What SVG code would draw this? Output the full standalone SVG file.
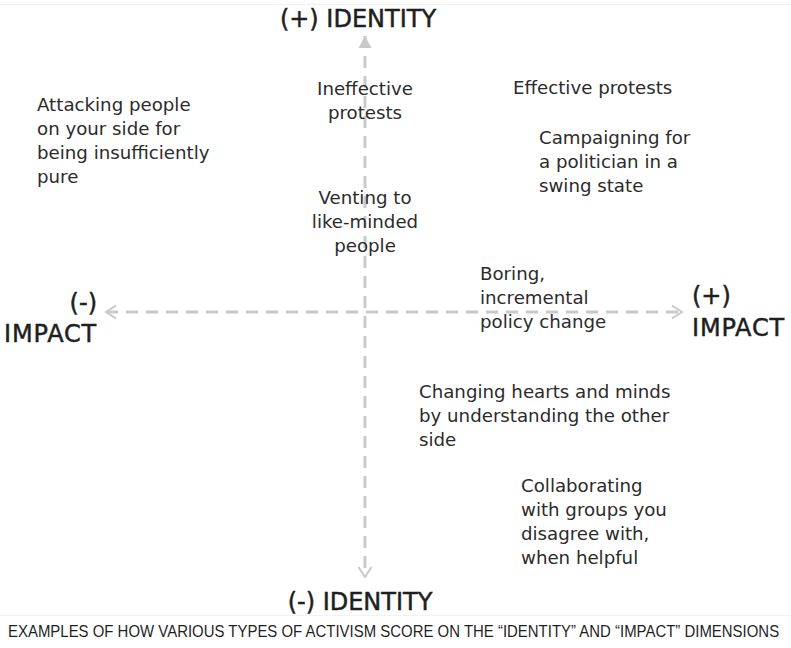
<svg xmlns="http://www.w3.org/2000/svg" width="791" height="648" viewBox="0 0 791 648">
<style>
.body{font-family:"DejaVu Sans",sans-serif;font-size:18.2px;fill:#2b2b2b}
.mid{text-anchor:middle}
.title{font-family:"DejaVu Sans",sans-serif;font-size:24px;fill:#1f1f1f;stroke:#1f1f1f;stroke-width:0.5}
.axis{stroke:#c9c9c9;stroke-width:3;fill:none;stroke-dasharray:12 8}
.cap{font-family:"Liberation Sans",sans-serif;font-size:16px;fill:#1f1f1f}
.rule{stroke:#f2f2f2;stroke-width:1}
</style>
<defs>
<marker id="chev" markerUnits="userSpaceOnUse" markerWidth="16" markerHeight="16" viewBox="-13 -8 16 16" refX="0" refY="0" orient="auto-start-reverse">
<path d="M-10,-6.5 L0,0 L-10,6.5" fill="none" stroke="#c9c9c9" stroke-width="2"/>
</marker>
<marker id="tri" markerUnits="userSpaceOnUse" markerWidth="16" markerHeight="16" viewBox="-13 -8 16 16" refX="0" refY="0" orient="auto-start-reverse">
<path d="M-12,-6.5 L0,0 L-12,6.5 Z" fill="#c9c9c9"/>
</marker>
</defs>
<rect width="791" height="648" fill="#ffffff"/>
<line class="rule" x1="0" y1="4.5" x2="791" y2="4.5"/>
<line class="rule" x1="0" y1="615.5" x2="791" y2="615.5"/>
<g id="connectors">
<line class="axis" x1="365" y1="36" x2="365" y2="577" marker-start="url(#tri)" marker-end="url(#chev)"/>
<line class="axis" x1="106" y1="312" x2="682" y2="312" marker-start="url(#chev)" marker-end="url(#chev)"/>
</g>
<g id="identity-plus"><text class="title mid" x="358" y="27">(+) IDENTITY</text></g>
<g id="identity-minus"><text class="title mid" x="360" y="610">(-) IDENTITY</text></g>
<g id="impact-minus"><text class="title" x="97" y="311" text-anchor="end">(-)</text><text class="title" x="97" y="342" text-anchor="end" letter-spacing="0.8">IMPACT</text></g>
<g id="impact-plus"><text class="title" x="692" y="304">(+)</text><text class="title" x="692" y="336" letter-spacing="0.8">IMPACT</text></g>
<g id="attacking"><text class="body" x="37"><tspan x="37" y="111">Attacking people</tspan><tspan x="37" y="135">on your side for</tspan><tspan x="37" y="159">being insufficiently</tspan><tspan x="37" y="183">pure</tspan></text></g>
<g id="ineffective"><text class="body mid"><tspan x="365" y="95">Ineffective</tspan><tspan x="365" y="119">protests</tspan></text></g>
<g id="effective"><text class="body" x="513" y="94">Effective protests</text></g>
<g id="campaigning"><text class="body"><tspan x="539" y="144">Campaigning for</tspan><tspan x="539" y="168">a politician in a</tspan><tspan x="539" y="192">swing state</tspan></text></g>
<g id="venting"><text class="body mid"><tspan x="365" y="204">Venting to</tspan><tspan x="365" y="228">like-minded</tspan><tspan x="365" y="252">people</tspan></text></g>
<g id="boring"><text class="body"><tspan x="480" y="280">Boring,</tspan><tspan x="480" y="304">incremental</tspan><tspan x="480" y="328">policy change</tspan></text></g>
<g id="changing"><text class="body"><tspan x="419" y="398">Changing hearts and minds</tspan><tspan x="419" y="422">by understanding the other</tspan><tspan x="419" y="446">side</tspan></text></g>
<g id="collaborating"><text class="body"><tspan x="521" y="492">Collaborating</tspan><tspan x="521" y="516">with groups you</tspan><tspan x="521" y="540">disagree with,</tspan><tspan x="521" y="564">when helpful</tspan></text></g>
<g id="caption"><text class="cap" transform="translate(8 637) scale(0.84 1)" x="0" y="0" textLength="918" lengthAdjust="spacingAndGlyphs">EXAMPLES OF HOW VARIOUS TYPES OF ACTIVISM SCORE ON THE “IDENTITY” AND “IMPACT” DIMENSIONS</text></g>
</svg>
